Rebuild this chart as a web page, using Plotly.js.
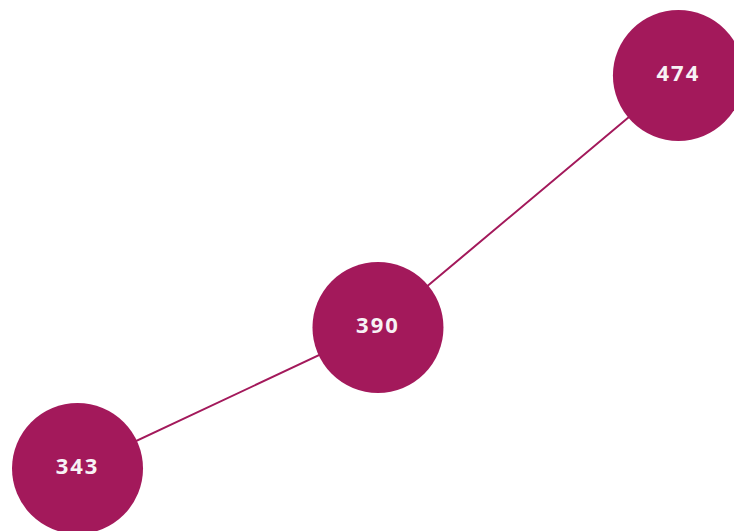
<!DOCTYPE html>
<html>
<head>
<meta charset="utf-8">
<script src="https://cdn.plot.ly/plotly-3.0.1.min.js"></script>
<style>
html,body{margin:0;padding:0;background:#fff;}
#chart{width:734px;height:531px;}
#chart .textpoint text{letter-spacing:2px;}
</style>
</head>
<body>
<div id="chart"></div>
<script>
const categories = [0, 1, 2];
const values = [343, 390, 474];
const labels = ["343", "390", "474"];

const trace = {
  x: categories,
  y: values,
  text: labels,
  mode: "lines+markers+text",
  textposition: "middle center",
  textfont: {family: "Noto Sans", size: 22, color: "#f7f2f5", weight: "bold"},
  line: {color: "#A3195B", width: 2},
  marker: {color: "#A3195B", size: 131, line: {width: 0}},
  hoverinfo: "none",
  cliponaxis: false
};

const layout = {
  width: 734,
  height: 531,
  margin: {l: 0, r: 0, t: 0, b: 0, pad: 0},
  paper_bgcolor: "#ffffff",
  plot_bgcolor: "#ffffff",
  showlegend: false,
  xaxis: {range: [-0.258, 2.185], visible: false, showgrid: false, zeroline: false, fixedrange: true},
  yaxis: {range: [322.17, 499.17], visible: false, showgrid: false, zeroline: false, fixedrange: true}
};

Plotly.newPlot("chart", [trace], layout, {displayModeBar: false, staticPlot: true});
</script>
</body>
</html>
